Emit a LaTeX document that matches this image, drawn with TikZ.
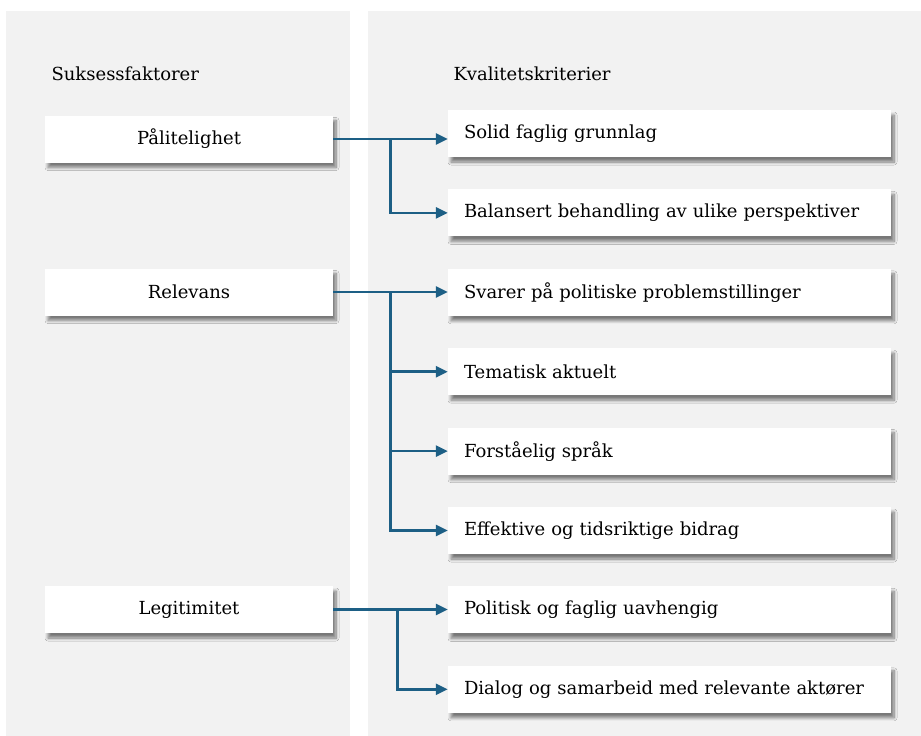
\documentclass[tikz,border=0pt]{standalone}
\usepackage{fontspec}
\setmainfont{DejaVu Serif}
\usetikzlibrary{calc, positioning}
\usetikzlibrary{arrows.meta}
\usetikzlibrary{shadows.blur}

\definecolor{panelgrey}{HTML}{F2F2F2}
\definecolor{linkblue}{HTML}{1D5F85}

\tikzset{
  card/.style={fill=white, minimum height=47pt, inner sep=0pt,
    blur shadow={shadow xshift=3pt, shadow yshift=-5pt, shadow blur radius=3pt, shadow blur steps=10, shadow opacity=50},
    font=\fontsize{18}{22}\selectfont},
  factor/.style={card, minimum width=288pt, align=center},
  criterion/.style={card, minimum width=443pt, text width=411pt, inner xsep=16pt, align=left},
  heading/.style={anchor=west, font=\fontsize{18}{22}\selectfont},
  link/.style={linkblue, line width=2.6pt, -{Triangle[length=12pt, width=11pt]}}
}

\begin{document}
\begin{tikzpicture}[x=1pt, y=-1pt]
\useasboundingbox (0,0) rectangle (921,736);

% panels
\fill[panelgrey] (6,11) rectangle (350,736);
\fill[panelgrey] (368,11) rectangle (921,736);

\node[heading] (hleft) at (48,74) {Suksessfaktorer};
\node[heading] (hright) at (450,74) {Kvalitetskriterier};

% success factors
\node[factor] (pal) at (189,139) {Pålitelighet};
\node[factor] (rel) at (189,292) {Relevans};
\node[factor] (leg) at (189,609.5) {Legitimitet};

% quality criteria
\node[criterion] (sol) at (669.5,133.5) {Solid faglig grunnlag};
\node[criterion, below=32pt of sol] (bal) {Balansert behandling av ulike perspektiver};
\node[criterion, below=32pt of bal] (sva) {Svarer på politiske problemstillinger};
\node[criterion, below=32pt of sva] (tem) {Tematisk aktuelt};
\node[criterion, below=32pt of tem] (for) {Forståelig språk};
\node[criterion, below=32pt of for] (eff) {Effektive og tidsriktige bidrag};
\node[criterion, below=32pt of eff] (pol) {Politisk og faglig uavhengig};
\node[criterion, below=32pt of pol] (dia) {Dialog og samarbeid med relevante aktører};

% branch points
\coordinate (jpal) at ($(pal.east)!0.5!(pal.east -| sol.west)$);
\coordinate (jrel) at ($(rel.east)!0.5!(rel.east -| sva.west)$);
\coordinate (jleg) at ($(leg.east)!0.56!(leg.east -| pol.west)$);

\draw[link] (pal.east) -- (pal.east -| sol.west);
\draw[link] (jpal) |- (bal.west);

\draw[link] (rel.east) -- (rel.east -| sva.west);
\draw[link] (jrel) |- (tem.west);
\draw[link] (jrel) |- (for.west);
\draw[link] (jrel) |- (eff.west);

\draw[link] (leg.east) -- (leg.east -| pol.west);
\draw[link] (jleg) |- (dia.west);
\end{tikzpicture}
\end{document}
